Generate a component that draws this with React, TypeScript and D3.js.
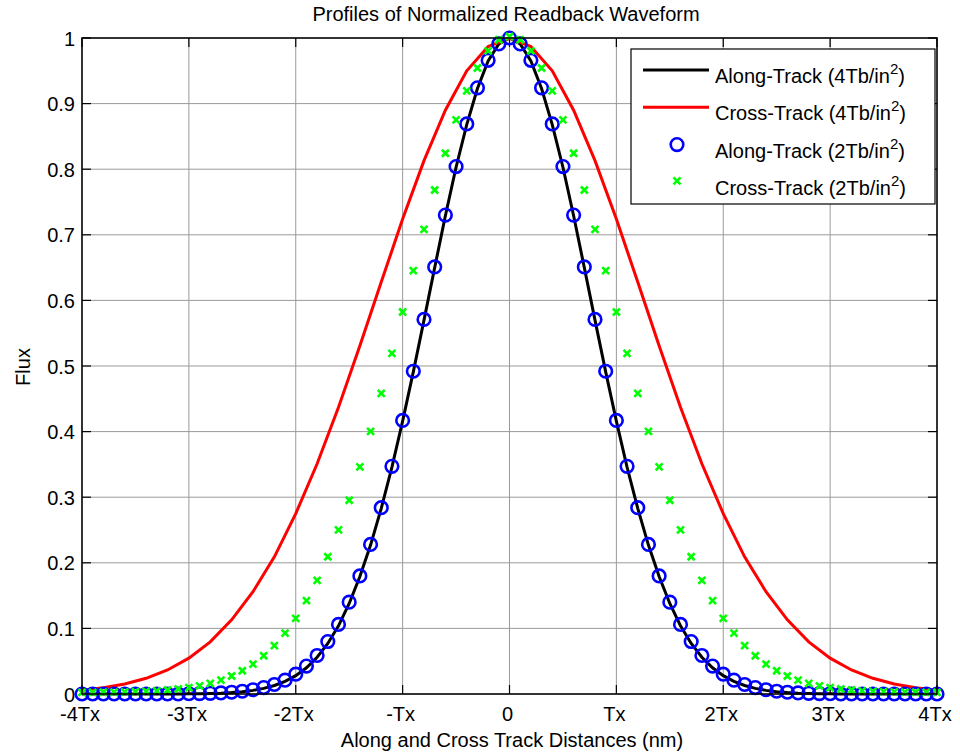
import React, { useRef, useEffect } from 'react';
import * as d3 from 'd3';

// sample grid positions (in units of Tx)
const fineX = d3.range(-40, 41).map(i => i / 10);
const coarseX = d3.range(-20, 21).map(i => i / 5);

// Along-Track 4Tb/in^2 (black line), step 0.1Tx
const alongTrack4 = [
  0, 0, 0, 0, 0, 0, 0, 0, 0, 0,
  0.0003, 0.0005, 0.0008, 0.0013, 0.0022, 0.0035, 0.0055, 0.0086, 0.013, 0.0192,
  0.028, 0.04, 0.056, 0.077, 0.104, 0.138, 0.179, 0.227, 0.283, 0.346,
  0.416, 0.491, 0.57, 0.65, 0.729, 0.803, 0.868, 0.923, 0.965, 0.991,
  1,
  0.991, 0.965, 0.923, 0.868, 0.803, 0.729, 0.65, 0.57, 0.491, 0.416,
  0.346, 0.283, 0.227, 0.179, 0.138, 0.104, 0.077, 0.056, 0.04, 0.028,
  0.0192, 0.013, 0.0086, 0.0055, 0.0035, 0.0022, 0.0013, 0.0008, 0.0005, 0.0003,
  0, 0, 0, 0, 0, 0, 0, 0, 0, 0,
];

// Cross-Track 4Tb/in^2 (red line), step 0.2Tx
const crossTrack4 = [
  0.0057, 0.0094, 0.0152, 0.0239, 0.0366, 0.0547, 0.0795, 0.113, 0.156, 0.209,
  0.275, 0.351, 0.437, 0.531, 0.628, 0.724, 0.813, 0.89, 0.95, 0.987,
  1,
  0.987, 0.95, 0.89, 0.813, 0.724, 0.628, 0.531, 0.437, 0.351, 0.275,
  0.209, 0.156, 0.113, 0.0795, 0.0547, 0.0366, 0.0239, 0.0152, 0.0094, 0.0057,
];

// Along-Track 2Tb/in^2 (blue circles), step 0.1Tx
const alongTrack2 = [
  0, 0, 0, 0, 0, 0, 0, 0, 0, 0,
  0.0004, 0.0006, 0.001, 0.0017, 0.0027, 0.0042, 0.0065, 0.0098, 0.0145, 0.0211,
  0.0302, 0.0425, 0.0587, 0.08, 0.106, 0.14, 0.18, 0.228, 0.284, 0.347,
  0.417, 0.492, 0.571, 0.651, 0.73, 0.804, 0.869, 0.924, 0.966, 0.991,
  1,
  0.991, 0.966, 0.924, 0.869, 0.804, 0.73, 0.651, 0.571, 0.492, 0.417,
  0.347, 0.284, 0.228, 0.18, 0.14, 0.106, 0.08, 0.0587, 0.0425, 0.0302,
  0.0211, 0.0145, 0.0098, 0.0065, 0.0042, 0.0027, 0.0017, 0.001, 0.0006, 0.0004,
  0, 0, 0, 0, 0, 0, 0, 0, 0, 0,
];

// Cross-Track 2Tb/in^2 (green crosses), step 0.1Tx
const crossTrack2 = [
  0.0002, 0.0003, 0.0004, 0.0006, 0.0009, 0.0013, 0.0018, 0.0026, 0.0038, 0.0053,
  0.0074, 0.0102, 0.0139, 0.0188, 0.0251, 0.0332, 0.0433, 0.056, 0.0715, 0.0904,
  0.113, 0.14, 0.171, 0.207, 0.248, 0.293, 0.344, 0.398, 0.456, 0.517,
  0.58, 0.643, 0.706, 0.766, 0.822, 0.873, 0.917, 0.952, 0.978, 0.995,
  1,
  0.995, 0.978, 0.952, 0.917, 0.873, 0.822, 0.766, 0.706, 0.643, 0.58,
  0.517, 0.456, 0.398, 0.344, 0.293, 0.248, 0.207, 0.171, 0.14, 0.113,
  0.0904, 0.0715, 0.056, 0.0433, 0.0332, 0.0251, 0.0188, 0.0139, 0.0102, 0.0074,
  0.0053, 0.0038, 0.0026, 0.0018, 0.0013, 0.0009, 0.0006, 0.0004, 0.0003, 0.0002,
];

const xTickValues = [-4, -3, -2, -1, 0, 1, 2, 3, 4];
const xTickLabels = ['-4Tx', '-3Tx', '-2Tx', '-Tx', '0', 'Tx', '2Tx', '3Tx', '4Tx'];
const yTickValues = [0, 0.1, 0.2, 0.3, 0.4, 0.5, 0.6, 0.7, 0.8, 0.9, 1];

const legendNames = ['Along-Track (4Tb/in', 'Cross-Track (4Tb/in', 'Along-Track (2Tb/in', 'Cross-Track (2Tb/in'];

const FONT = '"Liberation Sans", Arial, sans-serif';

function FluxChart() {
  const svgRef = useRef(null);

  useEffect(() => {
    const svg = d3.select(svgRef.current);
    svg.selectAll('*').remove();

    const left = 82, right = 937, top = 38, bottom = 694;

    const xScale = d3.scaleLinear().domain([-4, 4]).range([left, right]);
    const yScale = d3.scaleLinear().domain([0, 1]).range([bottom, top]);

    svg.append('rect')
      .attr('width', 960).attr('height', 754).attr('fill', '#fff');

    // grid
    const grid = svg.append('g').attr('stroke', '#9a9a9a').attr('stroke-width', 1);
    xTickValues.forEach(v => {
      grid.append('line')
        .attr('x1', xScale(v)).attr('x2', xScale(v))
        .attr('y1', top).attr('y2', bottom);
    });
    yTickValues.forEach(v => {
      grid.append('line')
        .attr('x1', left).attr('x2', right)
        .attr('y1', yScale(v)).attr('y2', yScale(v));
    });

    // ticks (inward, all four sides)
    const ticks = svg.append('g').attr('stroke', '#000').attr('stroke-width', 1.2);
    const tl = 9;
    xTickValues.forEach(v => {
      ticks.append('line').attr('x1', xScale(v)).attr('x2', xScale(v)).attr('y1', bottom).attr('y2', bottom - tl);
      ticks.append('line').attr('x1', xScale(v)).attr('x2', xScale(v)).attr('y1', top).attr('y2', top + tl);
    });
    yTickValues.forEach(v => {
      ticks.append('line').attr('x1', left).attr('x2', left + tl).attr('y1', yScale(v)).attr('y2', yScale(v));
      ticks.append('line').attr('x1', right).attr('x2', right - tl).attr('y1', yScale(v)).attr('y2', yScale(v));
    });

    // lines
    const line = d3.line()
      .x(d => xScale(d[0]))
      .y(d => yScale(d[1]));

    svg.append('path')
      .datum(fineX.map((x, i) => [x, alongTrack4[i]]))
      .attr('d', line)
      .attr('fill', 'none')
      .attr('stroke', '#000')
      .attr('stroke-width', 3);

    svg.append('path')
      .datum(coarseX.map((x, i) => [x, crossTrack4[i]]))
      .attr('d', line)
      .attr('fill', 'none')
      .attr('stroke', '#ff0000')
      .attr('stroke-width', 3);

    // blue circles
    svg.append('g')
      .selectAll('circle')
      .data(fineX.map((x, i) => [x, alongTrack2[i]]))
      .enter()
      .append('circle')
      .attr('cx', d => xScale(d[0]))
      .attr('cy', d => yScale(d[1]))
      .attr('r', 6.3)
      .attr('fill', 'none')
      .attr('stroke', '#0000ff')
      .attr('stroke-width', 2.6);

    // green crosses
    const crossPath = 'M-3.5,-3.5L3.5,3.5M-3.5,3.5L3.5,-3.5';
    svg.append('g')
      .selectAll('path')
      .data(fineX.map((x, i) => [x, crossTrack2[i]]))
      .enter()
      .append('path')
      .attr('transform', d => `translate(${xScale(d[0])},${yScale(d[1]) - 1.5})`)
      .attr('d', crossPath)
      .attr('stroke', '#00ff00')
      .attr('stroke-width', 2.6);

    // axes box
    svg.append('rect')
      .attr('x', left).attr('y', top)
      .attr('width', right - left).attr('height', bottom - top)
      .attr('fill', 'none').attr('stroke', '#000').attr('stroke-width', 1.5);

    // tick labels
    svg.append('g')
      .selectAll('text')
      .data(xTickValues)
      .enter()
      .append('text')
      .attr('x', d => xScale(d) - 2)
      .attr('y', 721)
      .attr('text-anchor', 'middle')
      .attr('font-family', FONT)
      .attr('font-size', 20)
      .text((d, i) => xTickLabels[i]);

    svg.append('g')
      .selectAll('text')
      .data(yTickValues)
      .enter()
      .append('text')
      .attr('x', 75)
      .attr('y', d => yScale(d) + 7.5)
      .attr('text-anchor', 'end')
      .attr('font-family', FONT)
      .attr('font-size', 20)
      .text(d => d3.format('~g')(d));

    // title and axis labels
    svg.append('text')
      .attr('x', 506).attr('y', 21)
      .attr('text-anchor', 'middle')
      .attr('font-family', FONT).attr('font-size', 20)
      .text('Profiles of Normalized Readback Waveform');

    svg.append('text')
      .attr('x', 512).attr('y', 747)
      .attr('text-anchor', 'middle')
      .attr('font-family', FONT).attr('font-size', 20)
      .text('Along and Cross Track Distances (nm)');

    svg.append('text')
      .attr('transform', 'translate(30,367) rotate(-90)')
      .attr('text-anchor', 'middle')
      .attr('font-family', FONT).attr('font-size', 20)
      .text('Flux');

    // legend
    const lg = svg.append('g');
    lg.append('rect')
      .attr('x', 631).attr('y', 49)
      .attr('width', 304).attr('height', 155)
      .attr('fill', '#fff').attr('stroke', '#000').attr('stroke-width', 1.2);

    const rowY = i => 70 + i * 37.3;
    lg.append('line').attr('x1', 643).attr('x2', 709).attr('y1', rowY(0)).attr('y2', rowY(0))
      .attr('stroke', '#000').attr('stroke-width', 3);
    lg.append('line').attr('x1', 643).attr('x2', 709).attr('y1', rowY(1)).attr('y2', rowY(1))
      .attr('stroke', '#ff0000').attr('stroke-width', 3);
    lg.append('circle').attr('cx', 677).attr('cy', rowY(2)).attr('r', 6.3)
      .attr('fill', 'none').attr('stroke', '#0000ff').attr('stroke-width', 2.6);
    lg.append('path').attr('transform', `translate(677,${rowY(3) - 1})`).attr('d', crossPath)
      .attr('stroke', '#00ff00').attr('stroke-width', 2.6);

    legendNames.forEach((name, i) => {
      const t = lg.append('text')
        .attr('x', 715).attr('y', rowY(i) + 13)
        .attr('font-family', FONT).attr('font-size', 20);
      t.append('tspan').text(name);
      t.append('tspan').attr('dy', -9).attr('font-size', 15).text('2');
      t.append('tspan').attr('dy', 9).text(')');
    });
  }, []);

  return (
    <svg
      ref={svgRef}
      width={960}
      height={754}
      style={{ position: 'absolute', left: 0, top: 0, display: 'block' }}
    />
  );
}

export default function App() {
  return <FluxChart />;
}
